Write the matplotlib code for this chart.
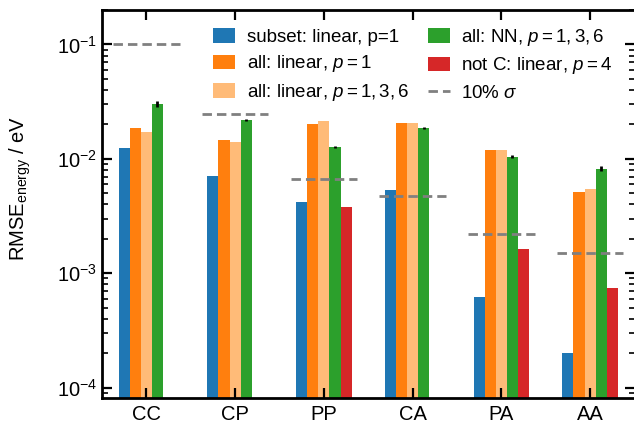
import numpy as np
import matplotlib
matplotlib.use("Agg")
import matplotlib.pyplot as plt

plt.rcParams['font.family'] = ['Liberation Sans', 'DejaVu Sans']
plt.rcParams['mathtext.fontset'] = 'custom'
plt.rcParams['mathtext.rm'] = 'Liberation Sans'
plt.rcParams['mathtext.it'] = 'Liberation Sans:italic'
plt.rcParams['mathtext.bf'] = 'Liberation Sans:bold'

pairs = ["CC", "CP", "PP", "CA", "PA", "AA"]

subset_linear_p1 = [0.0125, 0.0071, 0.00416, 0.00537, 0.000614, 0.0002]
all_linear_p1 = [0.0187, 0.0146, 0.0202, 0.0206, 0.0120, 0.00515]
all_linear_p136 = [0.0172, 0.0141, 0.0214, 0.0206, 0.0120, 0.00547]
all_nn_p136 = [0.0302, 0.0219, 0.0127, 0.0186, 0.0104, 0.00818]
all_nn_err = [0.0019, 0.0006, 0.0003, 0.0004, 0.0003, 0.0004]
notc_linear_p4 = [np.nan, np.nan, 0.00382, np.nan, 0.00164, 0.000735]
sigma_10pct = [0.1, 0.0247, 0.00665, 0.00469, 0.00221, 0.00151]

series = [
    (subset_linear_p1, "#1f77b4", "subset: linear, p=1"),
    (all_linear_p1, "#ff7f0e", r"all: linear, $p = 1$"),
    (all_linear_p136, "#ffbb78", r"all: linear, $p = 1,3,6$"),
    (all_nn_p136, "#2ca02c", r"all: NN, $p = 1,3,6$"),
    (notc_linear_p4, "#d62728", r"not C: linear, $p = 4$"),
]

fig = plt.figure(figsize=(6.34, 4.24), dpi=100)
ax = fig.add_axes([102 / 634, 26 / 424, 532.5 / 634, 388 / 424])

x = np.arange(len(pairs))
w = 0.125
for i, (vals, col, lab) in enumerate(series):
    ax.bar(x + (i - 2) * w, vals, width=w, color=col, label=lab)

# error bars on the NN results
ax.errorbar(x + w, all_nn_p136, yerr=all_nn_err, fmt='none', ecolor='black',
            elinewidth=2, capsize=0)

# 10% of the std of each energy contribution
for xi, s in zip(x, sigma_10pct):
    ax.plot([xi - 0.375, xi + 0.375], [s, s], color='gray', lw=2, dashes=(3.4, 1.8),
            label=r"10% $\sigma$" if xi == 0 else None)

ax.set_yscale('log')
ax.set_ylim(8.1e-5, 0.2)
ax.set_xlim(-0.5, 5.5)
ax.set_xticks(x)
ax.set_xticklabels(pairs)
ax.set_ylabel(r"RMSE$_\mathrm{energy}$ / eV", fontsize=14.5)
ax.yaxis.set_label_coords(-0.129, 0.54)

for s in ax.spines.values():
    s.set_linewidth(2)
ax.tick_params(which='both', direction='in', top=True, right=True, labelsize=14.5)
ax.tick_params(which='major', length=7, width=1.6)
ax.tick_params(which='minor', length=4, width=1.2)
ax.tick_params(axis='x', pad=5)

# put the sigma line last in the legend
handles, labels = ax.get_legend_handles_labels()
handles = handles[1:] + handles[:1]
labels = labels[1:] + labels[:1]
ax.legend(handles, labels, ncol=2, frameon=False, fontsize=13.5, loc='upper right',
          bbox_to_anchor=(0.99, 1.0), handlelength=1.2, handleheight=0.8,
          columnspacing=1.0, labelspacing=0.4, handletextpad=0.6)

fig.savefig("out.png", dpi=100)
